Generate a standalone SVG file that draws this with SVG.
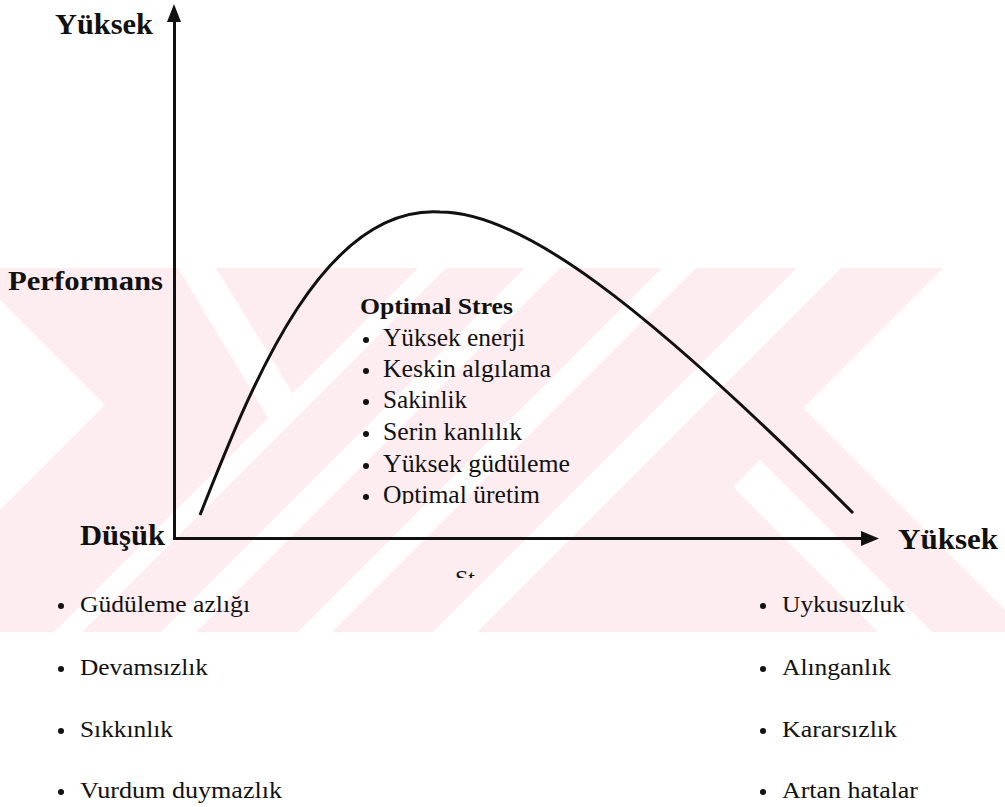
<svg xmlns="http://www.w3.org/2000/svg" width="1005" height="807" viewBox="0 0 1005 807">
<style>
.wm{fill:#fdedf0}
.wh{fill:#ffffff}
.b{font-family:"Liberation Serif","Times New Roman",serif;font-weight:bold;fill:#111}
.r{font-family:"Liberation Serif","Times New Roman",serif;fill:#111}
.ax{stroke:#111;stroke-width:3;fill:none}
.dot{fill:#111}
</style>
<defs>
<clipPath id="band"><rect x="0" y="268" width="1005" height="364"/></clipPath>
<clipPath id="cutOpt"><rect x="370" y="470" width="250" height="34"/></clipPath>
<clipPath id="cutSt"><rect x="440" y="560" width="60" height="18"/></clipPath>
</defs>
<rect width="1005" height="807" fill="#ffffff"/>
<g id="watermark" clip-path="url(#band)">
<polygon class="wm" points="0,268 943,268 803,408 1005,610 1005,632 0,632"/>
<polygon class="wh" points="0,300 105,405 0,510"/>
<polygon class="wh" points="178,268 216,268 298,402 274,428"/>
<polygon class="wh" points="733,487 760,460 932,632 878,632"/>
<polygon class="wh" points="797,268 841,268 477,632 433,632"/>
<polygon class="wh" points="662,268 696,268 332,632 298,632"/>
<polygon class="wh" points="525,268 560,268 196,632 161,632"/>
<polygon class="wh" points="418,268 446,268 82,632 54,632"/>
</g>
<g id="connectors">
<line class="ax" x1="174.5" y1="18" x2="174.5" y2="540"/>
<polygon class="dot" points="174,4 167,22 181,22"/>
<line class="ax" x1="173" y1="538.5" x2="865" y2="538.5"/>
<polygon class="dot" points="879,538.5 861,531 861,546"/>
<path class="ax" d="M200,515 C250,390 320,205 440,212 C520,212 640,300 853,513"/>
</g>
<g id="axis-labels">
<text class="b" x="55" y="34" font-size="29" textLength="98" lengthAdjust="spacingAndGlyphs">Yüksek</text>
<text class="b" x="8" y="290" font-size="27" textLength="155" lengthAdjust="spacingAndGlyphs">Performans</text>
<text class="b" x="80" y="545" font-size="29" textLength="85" lengthAdjust="spacingAndGlyphs">Düşük</text>
<text class="b" x="898" y="549" font-size="29" textLength="100" lengthAdjust="spacingAndGlyphs">Yüksek</text>
<text class="r" x="455" y="586" font-size="24" clip-path="url(#cutSt)">St</text>
</g>
<g id="optimal">
<text class="b" x="360" y="314" font-size="24" textLength="153" lengthAdjust="spacingAndGlyphs">Optimal Stres</text>
<circle class="dot" cx="366" cy="340" r="3"/>
<text class="r" x="383" y="346" font-size="25" textLength="142" lengthAdjust="spacingAndGlyphs">Yüksek enerji</text>
<circle class="dot" cx="366" cy="371" r="3"/>
<text class="r" x="383" y="377" font-size="25" textLength="168" lengthAdjust="spacingAndGlyphs">Keskin algılama</text>
<circle class="dot" cx="366" cy="402" r="3"/>
<text class="r" x="383" y="408" font-size="25" textLength="84" lengthAdjust="spacingAndGlyphs">Sakinlik</text>
<circle class="dot" cx="366" cy="434" r="3"/>
<text class="r" x="383" y="440" font-size="25" textLength="139" lengthAdjust="spacingAndGlyphs">Serin kanlılık</text>
<circle class="dot" cx="366" cy="466" r="3"/>
<text class="r" x="383" y="472" font-size="25" textLength="187" lengthAdjust="spacingAndGlyphs">Yüksek güdüleme</text>
<circle class="dot" cx="366" cy="497" r="3"/>
<text class="r" x="383" y="503" font-size="25" textLength="157" lengthAdjust="spacingAndGlyphs" clip-path="url(#cutOpt)">Optimal üretim</text>
</g>
<g id="low-stress">
<circle class="dot" cx="61" cy="606" r="3"/>
<text class="r" x="80" y="612" font-size="24" textLength="170" lengthAdjust="spacingAndGlyphs">Güdüleme azlığı</text>
<circle class="dot" cx="61" cy="669" r="3"/>
<text class="r" x="80" y="675" font-size="24" textLength="128" lengthAdjust="spacingAndGlyphs">Devamsızlık</text>
<circle class="dot" cx="61" cy="731" r="3"/>
<text class="r" x="80" y="737" font-size="24" textLength="93" lengthAdjust="spacingAndGlyphs">Sıkkınlık</text>
<circle class="dot" cx="61" cy="792" r="3"/>
<text class="r" x="80" y="798" font-size="24" textLength="202" lengthAdjust="spacingAndGlyphs">Vurdum duymazlık</text>
</g>
<g id="high-stress">
<circle class="dot" cx="763" cy="606" r="3"/>
<text class="r" x="782" y="612" font-size="24" textLength="123" lengthAdjust="spacingAndGlyphs">Uykusuzluk</text>
<circle class="dot" cx="763" cy="669" r="3"/>
<text class="r" x="782" y="675" font-size="24" textLength="109" lengthAdjust="spacingAndGlyphs">Alınganlık</text>
<circle class="dot" cx="763" cy="731" r="3"/>
<text class="r" x="782" y="737" font-size="24" textLength="115" lengthAdjust="spacingAndGlyphs">Kararsızlık</text>
<circle class="dot" cx="763" cy="792" r="3"/>
<text class="r" x="782" y="798" font-size="24" textLength="136" lengthAdjust="spacingAndGlyphs">Artan hatalar</text>
</g>
</svg>
